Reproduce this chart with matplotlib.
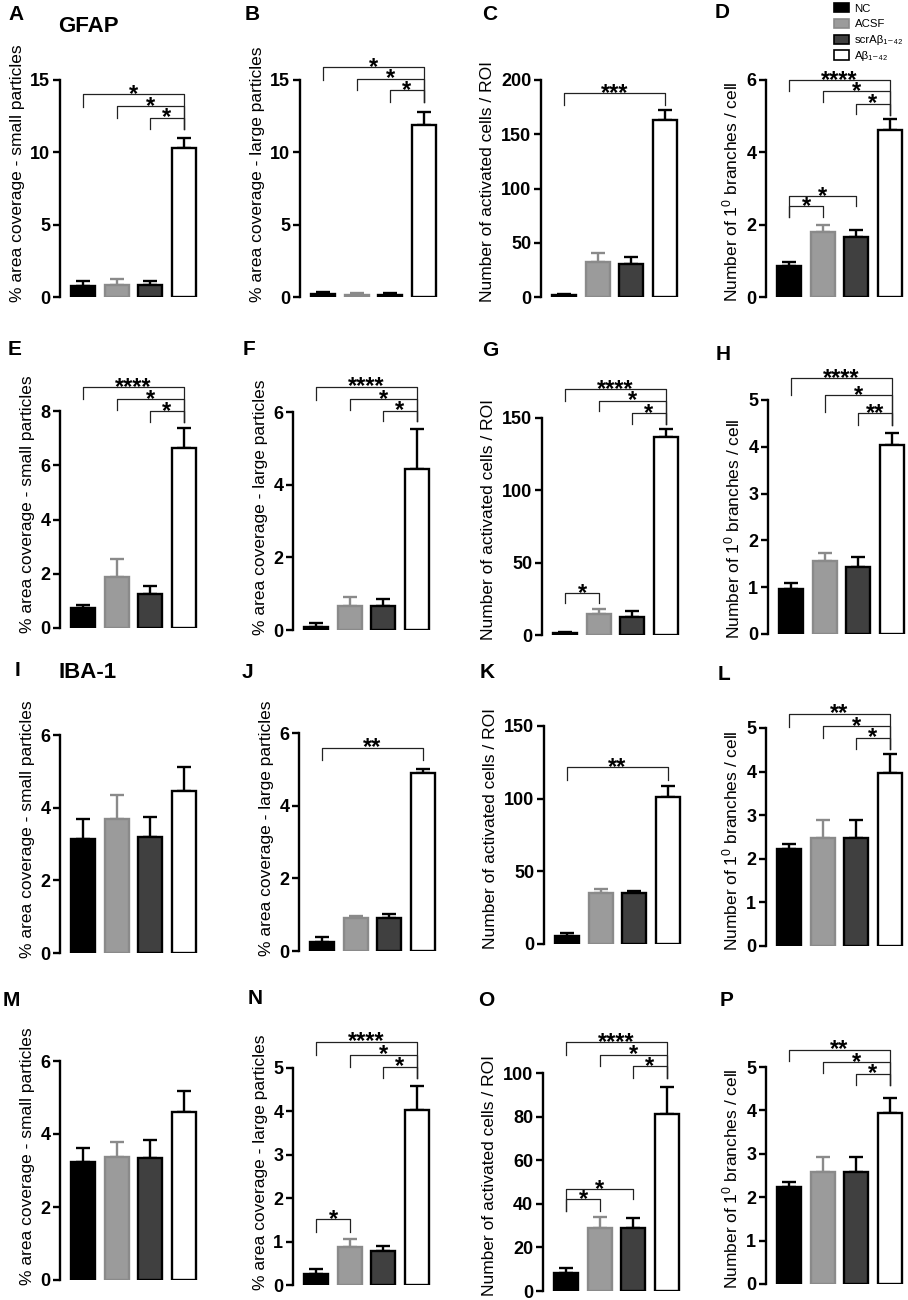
import matplotlib.pyplot as plt
from matplotlib.patches import Patch

W, H = 908, 1300
plt.rcParams['font.family'] = ['Liberation Sans', 'DejaVu Sans']
plt.rcParams['mathtext.default'] = 'regular'

groups = ['NC', 'ACSF', 'scrAβ₁₋₄₂', 'Aβ₁₋₄₂']

# y axis labels
small_lab = '% area coverage - small particles'
large_lab = '% area coverage - large particles'
cells_lab = 'Number of activated cells / ROI'
branch_lab = 'Number of 1$^{0}$ branches / cell'

# means and sem per panel
a_mean = [0.78, 0.83, 0.83, 10.3]
a_sem = [0.3, 0.38, 0.27, 0.7]
b_mean = [0.22, 0.15, 0.15, 11.9]
b_sem = [0.12, 0.15, 0.12, 0.9]
c_mean = [2, 32, 30, 163]
c_sem = [1, 9, 7, 9]
d_mean = [0.86, 1.80, 1.65, 4.61]
d_sem = [0.1, 0.2, 0.2, 0.31]
e_mean = [0.72, 1.88, 1.26, 6.62]
e_sem = [0.13, 0.66, 0.27, 0.75]
f_mean = [0.09, 0.66, 0.66, 4.43]
f_sem = [0.09, 0.24, 0.19, 1.1]
g_mean = [1.2, 14.3, 12.2, 136.9]
g_sem = [1.1, 3.4, 4.4, 5.7]
h_mean = [0.97, 1.55, 1.43, 4.03]
h_sem = [0.12, 0.18, 0.22, 0.27]
i_mean = [3.15, 3.68, 3.2, 4.46]
i_sem = [0.53, 0.66, 0.55, 0.65]
j_mean = [0.25, 0.91, 0.92, 4.91]
j_sem = [0.14, 0.05, 0.11, 0.11]
k_mean = [5.7, 34.9, 34.9, 101]
k_sem = [2.1, 2.7, 1.8, 8]
l_mean = [2.23, 2.47, 2.47, 3.97]
l_sem = [0.12, 0.43, 0.43, 0.43]
m_mean = [3.24, 3.36, 3.33, 4.59]
m_sem = [0.39, 0.41, 0.5, 0.58]
n_mean = [0.25, 0.87, 0.78, 4.03]
n_sem = [0.13, 0.18, 0.12, 0.55]
o_mean = [8.1, 29.1, 29.1, 81.2]
o_sem = [2.3, 4.8, 4.6, 12.2]
p_mean = [2.23, 2.59, 2.59, 3.94]
p_sem = [0.13, 0.34, 0.34, 0.35]

# significance brackets: (left, right, stars, height, left end, right end)
a_sig = [(0, 3, '*', 14.0, 13.1, 11.6), (1, 3, '*', 13.2, 12.4, 11.6), (2, 3, '*', 12.4, 11.6, 11.6)]
b_sig = [(0, 3, '*', 15.9, 15.0, 13.5), (1, 3, '*', 15.1, 14.3, 13.5), (2, 3, '*', 14.3, 13.5, 13.5)]
c_sig = [(0, 3, '***', 188, 177, 177)]
d_sig = [(0, 3, '****', 6.0, 5.69, 5.03), (1, 3, '*', 5.69, 5.38, 5.03), (2, 3, '*', 5.35, 5.06, 5.03),
         (0, 1, '*', 2.51, 2.22, 2.22), (0, 2, '*', 2.80, 2.22, 2.51)]
e_sig = [(0, 3, '****', 8.88, 8.43, 7.6), (1, 3, '*', 8.43, 8.03, 7.6), (2, 3, '*', 8.0, 7.6, 7.6)]
f_sig = [(0, 3, '****', 6.7, 6.34, 5.74), (1, 3, '*', 6.36, 6.06, 5.74), (2, 3, '*', 6.04, 5.74, 5.74)]
g_sig = [(0, 3, '****', 170, 162, 146), (1, 3, '*', 162, 155, 146), (2, 3, '*', 153.5, 146, 146),
         (0, 1, '*', 29.2, 21.9, 21.9)]
h_sig = [(0, 3, '****', 5.47, 5.1, 4.47), (1, 3, '*', 5.1, 4.75, 4.47), (2, 3, '**', 4.72, 4.47, 4.47)]
j_sig = [(0, 3, '**', 5.6, 5.27, 5.27)]
k_sig = [(0, 3, '**', 121.6, 112.9, 112.9)]
l_sig = [(0, 3, '**', 5.33, 5.02, 4.52), (1, 3, '*', 5.04, 4.77, 4.52), (2, 3, '*', 4.78, 4.52, 4.52)]
n_sig = [(0, 3, '****', 5.61, 5.31, 4.78), (1, 3, '*', 5.31, 5.03, 4.78), (2, 3, '*', 5.03, 4.78, 4.78),
         (0, 1, '*', 1.51, 1.23, 1.23)]
o_sig = [(0, 3, '****', 114.1, 108.4, 97.7), (1, 3, '*', 108.4, 103, 97.7), (2, 3, '*', 103, 97.7, 97.7),
         (0, 1, '*', 42.1, 36.9, 36.9), (0, 2, '*', 46.9, 36.9, 42.1)]
p_sig = [(0, 3, '**', 5.40, 5.13, 4.58), (1, 3, '*', 5.11, 4.86, 4.58), (2, 3, '*', 4.85, 4.58, 4.58)]

# panel: letter, mean, sem, ylabel, ymax, ystep, brackets
panels = [
    ('A', a_mean, a_sem, small_lab, 15, 5, a_sig),
    ('B', b_mean, b_sem, large_lab, 15, 5, b_sig),
    ('C', c_mean, c_sem, cells_lab, 200, 50, c_sig),
    ('D', d_mean, d_sem, branch_lab, 6, 2, d_sig),
    ('E', e_mean, e_sem, small_lab, 8, 2, e_sig),
    ('F', f_mean, f_sem, large_lab, 6, 2, f_sig),
    ('G', g_mean, g_sem, cells_lab, 150, 50, g_sig),
    ('H', h_mean, h_sem, branch_lab, 5, 1, h_sig),
    ('I', i_mean, i_sem, small_lab, 6, 2, []),
    ('J', j_mean, j_sem, large_lab, 6, 2, j_sig),
    ('K', k_mean, k_sem, cells_lab, 150, 50, k_sig),
    ('L', l_mean, l_sem, branch_lab, 5, 1, l_sig),
    ('M', m_mean, m_sem, small_lab, 6, 2, []),
    ('N', n_mean, n_sem, large_lab, 5, 1, n_sig),
    ('O', o_mean, o_sem, cells_lab, 100, 20, o_sig),
    ('P', p_mean, p_sem, branch_lab, 5, 1, p_sig),
]

# layout in pixels: spine x, y of zero, y of top tick
layout = {
    'A': (60, 297, 80), 'B': (300, 297, 80), 'C': (541, 297, 80), 'D': (766, 297, 80),
    'E': (60, 628, 411), 'F': (293, 630, 412), 'G': (542, 635, 418), 'H': (768, 634, 400),
    'I': (60, 953, 735), 'J': (299, 951, 733), 'K': (544, 944, 726), 'L': (766, 946, 728),
    'M': (60, 1280, 1061), 'N': (293, 1285, 1068), 'O': (543, 1291, 1073), 'P': (766, 1284, 1067),
}
letter_pos = {
    'A': (8, 15), 'B': (245, 15), 'C': (482, 14), 'D': (715, 13),
    'E': (8, 350), 'F': (243, 350), 'G': (482, 351), 'H': (716, 355),
    'I': (15, 671), 'J': (242, 672), 'K': (480, 672), 'L': (718, 675),
    'M': (3, 1001), 'N': (248, 998), 'O': (478, 1000), 'P': (720, 1001),
}

colors = ['#000000', '#9b9b9b', '#404040', '#ffffff']
edges = ['#000000', '#8a8a8a', '#000000', '#000000']
AX_W = 140
STEP = 33.4   # pixels between bars

fig = plt.figure(figsize=(W / 100, H / 100), dpi=100)

for letter, mean, sem, ylab, ymax, ystep, sig in panels:
    sx, y0, yt = layout[letter]
    h = y0 - yt
    ax = fig.add_axes([sx / W, 1 - y0 / H, AX_W / W, h / H])
    x = list(range(len(mean)))
    for i in x:
        ax.errorbar(i, mean[i], yerr=[[0], [sem[i]]], fmt='none', ecolor=edges[i],
                    elinewidth=1.7, capsize=5, capthick=1.7, zorder=2)
    ax.bar(x, mean, width=0.72, color=colors, edgecolor=edges, linewidth=1.7, zorder=3)
    for (i, j, lab, yb, yl, yr) in sig:
        ax.plot([i, i, j, j], [yl, yb, yb, yr], color='#222222', lw=0.9, clip_on=False)
        ax.annotate(lab, xy=((i + j) / 2, yb), xytext=(0, -8.5), textcoords='offset points',
                    ha='center', va='bottom', fontsize=17, fontweight='bold',
                    annotation_clip=False)
    ax.set_xlim(-0.7, -0.7 + AX_W / STEP)
    ax.set_ylim(0, ymax)
    ticks = list(range(0, ymax + 1, ystep))
    ax.set_yticks(ticks, [str(t) for t in ticks], fontweight='bold', fontsize=13)
    ax.set_xticks([])
    for s in ['top', 'right', 'bottom']:
        ax.spines[s].set_visible(False)
    ax.spines['left'].set_linewidth(1.7)
    ax.tick_params(axis='y', direction='out', length=5, width=1.7, pad=2)
    ax.set_ylabel(ylab, fontsize=12.5, ha='left', y=-5 / h, labelpad=4)
    ax.patch.set_alpha(0)
    lx, ly = letter_pos[letter]
    fig.text(lx / W, 1 - ly / H, letter, fontsize=15, fontweight='bold', ha='left', va='center')

fig.text(58 / W, 1 - 26 / H, 'GFAP', fontsize=16, fontweight='bold', ha='left', va='center')
fig.text(58 / W, 1 - 673 / H, 'IBA-1', fontsize=16, fontweight='bold', ha='left', va='center')

handles = [Patch(facecolor=c, edgecolor=e, linewidth=1.2) for c, e in zip(colors, edges)]
fig.legend(handles, groups, loc='upper left', bbox_to_anchor=(834 / W, 1 - 3 / H),
           frameon=False, fontsize=8.2, handlelength=1.35, handleheight=0.9,
           handletextpad=0.45, labelspacing=0.45, borderpad=0, borderaxespad=0)

fig.savefig('out.png', dpi=100)
